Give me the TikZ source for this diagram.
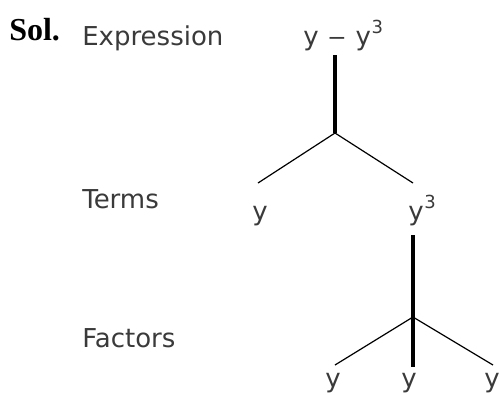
\documentclass[tikz,border=0pt]{standalone}
\usepackage{fontspec}
\setmainfont{Liberation Serif}
\newfontfamily\treefont{DejaVu Sans}
\usepackage{graphicx}
\usepackage{xcolor}
\usepackage{tikz}
\usetikzlibrary{calc, positioning}

\definecolor{inkgray}{HTML}{3A3A3A}
\newcommand{\cubed}[1]{#1\hspace{0.5pt}\raisebox{9pt}{\fontsize{13.5}{13.5}\selectfont 3}}

\tikzset{
    lbl/.style={inner sep=0pt, anchor=base west, text=inkgray, font=\treefont\fontsize{19.5}{20}\selectfont},
    leaf/.style={lbl, anchor=base},
    stem/.style={line width=2.5pt},
    twig/.style={line width=0.9pt}
}

\begin{document}
\begin{tikzpicture}[x=0.75pt, y=-0.75pt]
    % --- khung hinh ---
    \useasboundingbox (0,0) rectangle (500,394);

    % --- nhan ben trai ---
    \node[inner sep=0pt, anchor=base west, font=\bfseries\fontsize{24}{24}\selectfont] (sol) at (9,40) {Sol.};
    \node[lbl] (expr) at (82,45) {Expression};
    \node[lbl] (terms) at (82,208) {Terms};
    \node[lbl] (facts) at (82,347) {Factors};

    % --- bieu thuc va cac hang tu ---
    \node[lbl] (top) at (303,45) {y\hspace{7pt}\scalebox{1.4}[1]{–}\hspace{7pt}\cubed{y}};
    \node[lbl] (ty) at (252,220) {y};
    \node[lbl] (tcube) at (408,220) {\cubed{y}};

    % --- cac nhan tu ---
    \node[leaf] (f1) at (333,387) {y};
    \node[leaf] (f2) at (409,387) {y};
    \node[leaf] (f3) at (492,387) {y};

    % diem noi cua cac nhanh
    \coordinate (a0) at (335,55);
    \coordinate (a1) at (335,133);
    \coordinate (aL) at (258,183);
    \coordinate (aR) at (413,183);
    \coordinate (b0) at (413,235);
    \coordinate (b1) at (413,317);
    \coordinate (bM) at (413,367);
    \coordinate (bL) at (335,365);
    \coordinate (bR) at (493,365);

    % Ve cac nhanh cua cay
    \draw[stem] (a0) -- (a1);
    \draw[twig] (a1) -- (aL);
    \draw[twig] (a1) -- (aR);
    \draw[stem] (b0) -- (bM);
    \draw[twig] (b1) -- (bL);
    \draw[twig] (b1) -- (bR);
\end{tikzpicture}
\end{document}
